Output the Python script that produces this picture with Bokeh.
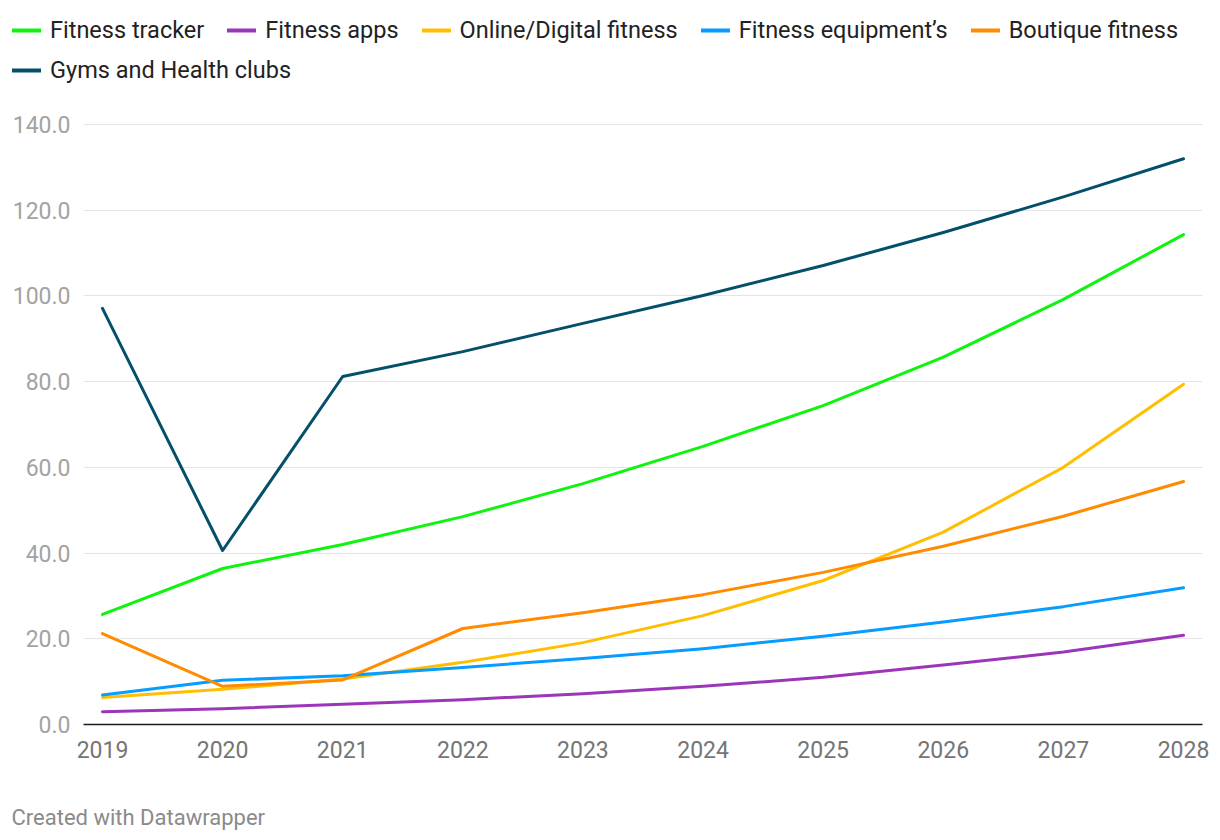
from bokeh.plotting import figure
from bokeh.models import (Legend, LegendItem, FixedTicker, PrintfTickFormatter,
                          Range1d, Label)
from bokeh.embed import file_html
from bokeh.resources import INLINE

years = [2019, 2020, 2021, 2022, 2023, 2024, 2025, 2026, 2027, 2028]

fitness_tracker = [25.7, 36.4, 42.0, 48.5, 56.2, 64.9, 74.4, 85.7, 99.2, 114.3]
fitness_apps = [3.0, 3.7, 4.7, 5.8, 7.2, 8.9, 11.0, 13.9, 16.9, 20.8]
online_digital = [6.3, 8.2, 10.6, 14.5, 19.1, 25.4, 33.6, 44.9, 60.0, 79.4]
fitness_equipment = [6.9, 10.3, 11.4, 13.3, 15.4, 17.7, 20.6, 23.9, 27.5, 31.9]
boutique = [21.2, 8.9, 10.4, 22.4, 26.1, 30.3, 35.5, 41.6, 48.6, 56.7]
gyms = [97.1, 40.6, 81.2, 87.0, 93.6, 100.1, 107.1, 114.8, 123.1, 132.0]

series_names = ["Fitness tracker", "Fitness apps", "Online/Digital fitness",
                "Fitness equipment\u2019s", "Boutique fitness", "Gyms and Health clubs"]
series_values = [fitness_tracker, fitness_apps, online_digital,
                 fitness_equipment, boutique, gyms]
series_colors = ["#0ef40e", "#9b36b9", "#ffbf00", "#079cff", "#ff8b00", "#04506a"]

y_ticks = [0, 20, 40, 60, 80, 100, 120, 140]

FONT = "Roboto"
NAN = float("nan")

# ---------------- legend strip (top) ----------------
pl = figure(width=1220, height=100, output_backend="svg", toolbar_location=None,
            x_axis_type=None, y_axis_type=None,
            x_range=Range1d(0, 1), y_range=Range1d(0, 1),
            min_border_left=0, min_border_right=0, min_border_top=0,
            min_border_bottom=0)
pl.outline_line_color = None
pl.xgrid.visible = False
pl.ygrid.visible = False
proxies = []
for col in series_colors:
    # legend-only proxy (no visible mark)
    proxies.append(pl.line(x=[NAN], y=[NAN], line_color=col, line_width=4,
                           line_cap="round"))


def make_legend(items, loc):
    return Legend(items=items, location=loc, orientation="horizontal",
                  label_text_font=FONT, label_text_font_size="23.5px",
                  label_text_color="#222222", glyph_width=29, glyph_height=30,
                  label_height=30, label_standoff=9, spacing=23, padding=0,
                  margin=0, border_line_color=None, background_fill_alpha=0)


items = [LegendItem(label=n, renderers=[r]) for n, r in zip(series_names, proxies)]
pl.add_layout(make_legend(items[:5], (12, 55.5)), "center")
pl.add_layout(make_legend(items[5:], (12, 15)), "center")

# ---------------- main chart ----------------
p = figure(width=1220, height=700, output_backend="svg", toolbar_location=None,
           x_range=Range1d(2018.842, 2028.158), y_range=Range1d(0, 145.6),
           min_border_left=83, min_border_right=18, min_border_top=0,
           min_border_bottom=76)
p.outline_line_color = None
p.background_fill_color = "white"
p.border_fill_color = "white"

for name, vals, col in zip(series_names, series_values, series_colors):
    p.line(years, vals, line_color=col, line_width=3, line_join="round",
           line_cap="round")

p.xgrid.grid_line_color = None
p.ygrid.grid_line_color = "#e4e4e4"
p.ygrid.grid_line_width = 1
p.ygrid.ticker = FixedTicker(ticks=y_ticks)

p.yaxis.ticker = FixedTicker(ticks=y_ticks)
p.yaxis.formatter = PrintfTickFormatter(format="%.1f")
p.yaxis.axis_line_color = None
p.yaxis.major_tick_line_color = None
p.yaxis.minor_tick_line_color = None
p.yaxis.major_tick_out = 0
p.yaxis.major_label_standoff = 13
p.yaxis.major_label_text_font = FONT
p.yaxis.major_label_text_font_size = "23px"
p.yaxis.major_label_text_color = "#a3a3a3"

p.xaxis.ticker = FixedTicker(ticks=years)
p.xaxis.axis_line_color = "#1a1a1a"
p.xaxis.axis_line_width = 1.5
p.xaxis.major_tick_line_color = None
p.xaxis.minor_tick_line_color = None
p.xaxis.major_tick_out = 0
p.xaxis.major_tick_in = 0
p.xaxis.major_label_standoff = 16
p.xaxis.major_label_text_font = FONT
p.xaxis.major_label_text_font_size = "23px"
p.xaxis.major_label_text_color = "#757575"

# ---------------- footer strip ----------------
pf = figure(width=1220, height=40, output_backend="svg", toolbar_location=None,
            x_axis_type=None, y_axis_type=None,
            x_range=Range1d(0, 1), y_range=Range1d(0, 1),
            min_border_left=0, min_border_right=0, min_border_top=0,
            min_border_bottom=0)
pf.outline_line_color = None
pf.xgrid.visible = False
pf.ygrid.visible = False
pf.add_layout(Label(x=11, y=23, x_units="screen", y_units="screen",
                    text="Created with Datawrapper", text_font=FONT,
                    text_font_size="22px", text_color="#8a8a8a",
                    text_baseline="alphabetic", text_align="left"))

open("out.html", "w").write(file_html([pl, p, pf], INLINE))
